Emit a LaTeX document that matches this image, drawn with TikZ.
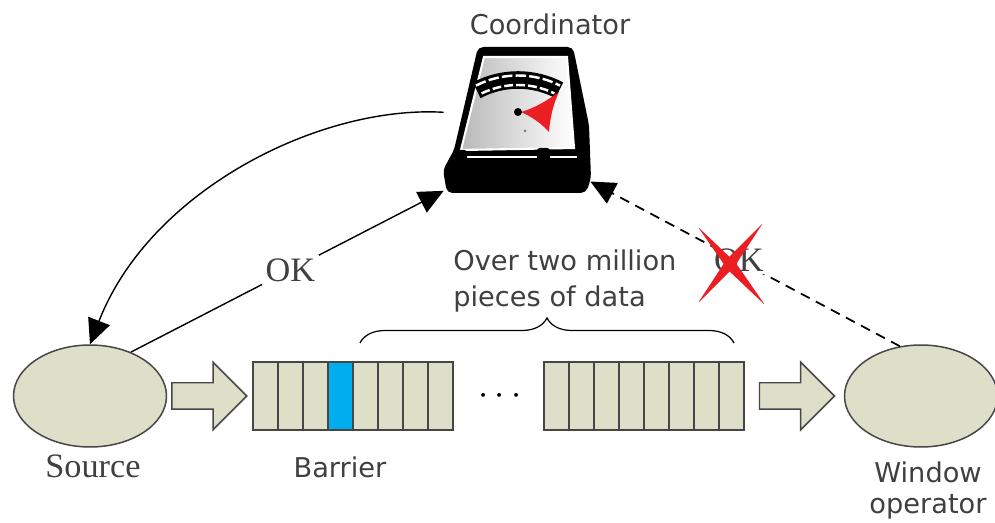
\documentclass[tikz,border=0pt]{standalone}
\usepackage{fontspec}
\setmainfont{Liberation Serif}
\newfontfamily\dejavu{DejaVu Sans}
\usetikzlibrary{arrows.meta,shapes.geometric,shapes.arrows,decorations.pathreplacing,calc}
\definecolor{cellfill}{RGB}{221,223,201}
\definecolor{cellblue}{RGB}{0,174,239}
\definecolor{txtgray}{RGB}{64,64,64}
\definecolor{edgegray}{RGB}{70,70,70}
\definecolor{crossred}{RGB}{235,30,35}

\begin{document}
\begin{tikzpicture}[x=0.02cm,y=-0.02cm,
  sanslabel/.style={font=\dejavu\fontsize{15.5}{21}\selectfont,text=txtgray,inner sep=0pt},
  romanlabel/.style={font=\fontsize{19.5}{23}\selectfont,text=txtgray,inner sep=0pt},
  blob/.style={ellipse,draw=edgegray,line width=0.85pt,fill=cellfill,minimum width=3.06cm,minimum height=2.04cm},
  cell/.style={rectangle,draw=edgegray,line width=1.1pt,fill=cellfill,minimum width=0.5cm,minimum height=1.36cm,inner sep=0pt},
  bigarrow/.style={single arrow,draw=edgegray,line width=0.85pt,fill=cellfill,minimum height=1.5cm,minimum width=1.32cm,inner sep=0.25cm,single arrow head extend=0.41cm},
  link/.style={line width=0.8pt,-{Triangle[length=0.5cm,width=0.46cm]}},
]
\useasboundingbox (0,0) rectangle (995,523);

\node[blob] (src) at (90,396) {};
\node[blob] (win) at (921,396) {};
\node[romanlabel,anchor=base] (srclab) at (93,478) {Source};
\node[sanslabel,font=\dejavu\fontsize{15.5}{18}\selectfont,align=center,anchor=base] (winlab) at (928,514) {Window\\operator};

% barrier cells
\foreach \i in {1,...,8}{
  \ifnum\i=4 \def\c{cellblue}\else\def\c{cellfill}\fi
  \node[cell,fill=\c] (l\i) at ({240.5+25*\i},396) {};
}
\foreach \i in {1,...,8}
  \node[cell] (r\i) at ({531.5+25*\i},396) {};
\node[font=\fontsize{21}{21}\selectfont] (dots) at (500,396) {$\cdots$};
\node[sanslabel,anchor=base] (barlab) at (340,478) {Barrier};

\node[bigarrow,xshift=-0.14cm] (in) at ($(src.east)!0.5!(l1.west)$) {};
\node[bigarrow,xshift=-0.08cm] (out) at ($(r8.east)!0.5!(win.west)$) {};

\coordinate (bl) at (360,343);
\coordinate (br) at (734,343);
\draw[decorate,decoration={brace,amplitude=0.5cm},line width=0.7pt] (bl) -- (br);
\node[sanslabel,align=left,anchor=base west] (count) at (453,307) {Over two million\\pieces of data};

% the meter
\node[minimum width=2.92cm,minimum height=2.92cm] (meter) at (517,120) {};
\node[sanslabel,anchor=base] (coordlab) at (550,35) {Coordinator};
\fill[black,rounded corners=3pt] (478,47) -- (573,47) -- (589,125) -- (591,178) -- (586,193) -- (447,193) -- (443,170) -- (454,150) -- cycle;
\shadedraw[draw=white,line width=1.2pt,left color=gray!55,right color=white] (484,57) -- (567,57) -- (574,148) -- (461,150) -- cycle;
\draw[white,line width=1.5pt] (458,157) -- (577,157);
\fill[black,rounded corners=1.5pt] (454,150) rectangle (467,164);
\fill[black,rounded corners=1.5pt] (537,148) rectangle (550,162);
\draw[black,line width=10pt] (518,168) ++(242:88) arc (242:298:88);
\draw[white,line width=1.4pt,dash pattern=on 5pt off 1.8pt] (518,168) ++(244:83) arc (244:296:83);
\draw[white,line width=1.4pt,dash pattern=on 6pt off 1.8pt] (518,168) ++(243:92.5) arc (243:297:92.5);
\fill[crossred] (521,112) .. controls (535,108) and (548,100) .. (559,92) .. controls (553,105) and (550,118) .. (549,132) .. controls (540,122) and (530,116) .. (521,112) -- cycle;
\fill[black] (518,112) circle (4);
\fill[gray] (525,131) circle (1.5);

\draw[link] (meter.174) .. controls (320,105) and (150,190) .. (src.north);
\draw[link] (src.47) -- node[romanlabel,fill=white,inner sep=2pt,pos=0.51] (okyes) {OK} (meter.224);
\draw[link,line width=1pt,dash pattern=on 5.7pt off 4pt] (win.113) -- node[romanlabel,fill=white,inner sep=1pt,pos=0.52] (okno) {OK} (meter.320);

% red cross over the refused reply
\fill[crossred,rounded corners=1pt] (698,227) -- (727.5,269.5) -- (765,305) -- (735.5,262.5) -- cycle;
\fill[crossred,rounded corners=1pt] (763,223) -- (734.5,266.5) -- (698,303) -- (726.5,259.5) -- cycle;
\end{tikzpicture}
\end{document}
